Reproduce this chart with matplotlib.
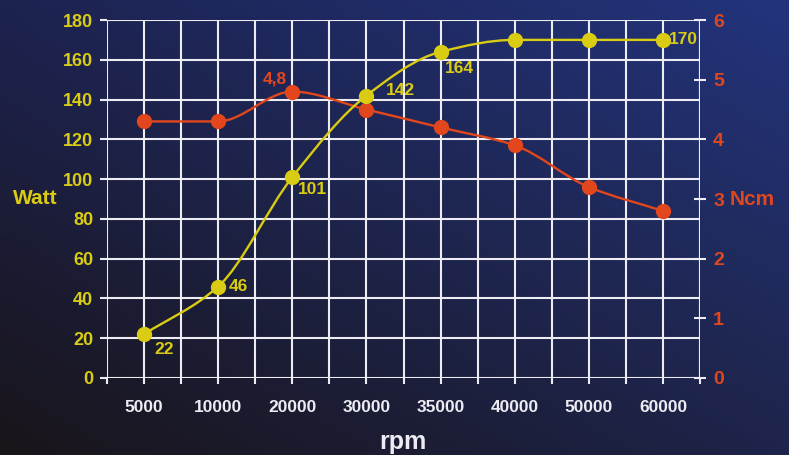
import numpy as np
import matplotlib
matplotlib.use("Agg")
import matplotlib.pyplot as plt
from matplotlib.path import Path
from matplotlib.patches import PathPatch

# ---- data ----
rpm_labels = ["5000", "10000", "20000", "30000", "35000", "40000", "50000", "60000"]
power_watt = [22, 46, 101, 142, 164, 170, 170, 170]
torque_ncm = [4.3, 4.3, 4.8, 4.5, 4.2, 3.9, 3.2, 2.8]
power_labels = ["22", "46", "101", "142", "164", "", "", "170"]
watt_ticks = [0, 20, 40, 60, 80, 100, 120, 140, 160, 180]
ncm_ticks = [0, 1, 2, 3, 4, 5, 6]

YELLOW = "#d9cc12"
RED = "#e2461c"
WHITE = "#ececf2"

plt.rcParams['font.family'] = ['Liberation Sans', 'DejaVu Sans']
plt.rcParams['font.weight'] = 'bold'

fig = plt.figure(figsize=(7.89, 4.55), dpi=100)

# background gradient
bg = fig.add_axes([0, 0, 1, 1])
tl = np.array([0x1d, 0x23, 0x50]) / 255
tr = np.array([0x23, 0x34, 0x7c]) / 255
bl = np.array([0x19, 0x15, 0x1a]) / 255
br = np.array([0x1e, 0x24, 0x4a]) / 255
ny, nx = 60, 100
yy, xx = np.mgrid[0:1:ny * 1j, 0:1:nx * 1j]
img = (tl[None, None, :] * ((1 - xx) * (1 - yy))[..., None]
       + tr[None, None, :] * (xx * (1 - yy))[..., None]
       + bl[None, None, :] * ((1 - xx) * yy)[..., None]
       + br[None, None, :] * (xx * yy)[..., None])
bg.imshow(img, aspect='auto', extent=[0, 1, 0, 1], interpolation='bilinear')
bg.set_axis_off()

ax = fig.add_axes([107 / 789, 1 - 378 / 455, (700 - 107) / 789, (378 - 20) / 455])
ax.set_facecolor('none')
n = len(rpm_labels)
x = np.arange(n)
ax.set_xlim(-0.5, n - 0.5)
ax.set_ylim(0, 180)

# grid
half_steps = np.arange(-0.5, n, 0.5)
ax.set_xticks(half_steps)
ax.set_xticklabels([""] * len(half_steps))
for xv in half_steps:
    ax.axvline(xv, color=WHITE, lw=1.5, zorder=1)
for yv in watt_ticks:
    ax.axhline(yv, color=WHITE, lw=1.5, zorder=1)
for s in ax.spines.values():
    s.set_visible(False)

ax.set_yticks(watt_ticks)
ax.set_yticklabels([str(v) for v in watt_ticks], color=YELLOW, fontsize=13, fontweight='bold')
ax.tick_params(axis='y', direction='out', length=5, width=1.5, color=WHITE, pad=5)
ax.tick_params(axis='x', direction='out', length=4, width=1.5, color=WHITE, pad=0)

for xi, lab in zip(x, rpm_labels):
    ax.annotate(lab, xy=(xi, 0), xycoords='data', xytext=(0, -29), textcoords='offset pixels',
                ha='center', va='center', color=WHITE, fontsize=12.5, fontweight='bold')


def smooth_path(xs, ys):
    """Monotone cubic (Fritsch-Carlson) drawn as Bezier segments."""
    xs = np.asarray(xs, float)
    ys = np.asarray(ys, float)
    m = len(xs)
    h = np.diff(xs)
    d = np.diff(ys) / h
    t = np.zeros(m)
    t[0] = d[0]
    t[-1] = d[-1]
    for i in range(1, m - 1):
        if d[i - 1] * d[i] <= 0:
            t[i] = 0.0
        else:
            w1 = 2 * h[i] + h[i - 1]
            w2 = h[i] + 2 * h[i - 1]
            t[i] = (w1 + w2) / (w1 / d[i - 1] + w2 / d[i])
    verts = [(xs[0], ys[0])]
    codes = [Path.MOVETO]
    for i in range(m - 1):
        c1 = (xs[i] + h[i] / 3, ys[i] + t[i] * h[i] / 3)
        c2 = (xs[i + 1] - h[i] / 3, ys[i + 1] - t[i + 1] * h[i] / 3)
        verts += [c1, c2, (xs[i + 1], ys[i + 1])]
        codes += [Path.CURVE4] * 3
    return Path(verts, codes)


ax2 = ax.twinx()
ax2.set_ylim(0, 6)
ax2.set_facecolor('none')
for s in ax2.spines.values():
    s.set_visible(False)
ax2.axvline(n - 0.5, color=WHITE, lw=1.5, zorder=1)
ax2.set_yticks(ncm_ticks)
ax2.set_yticklabels([str(v) for v in ncm_ticks], color=RED, fontsize=14, fontweight='bold')
ax2.tick_params(axis='y', direction='inout', length=9, width=1.5, color=WHITE, pad=5)

# torque line (red)
ax2.add_patch(PathPatch(smooth_path(x, torque_ncm), fill=False, edgecolor=RED, lw=1.7, zorder=3))
ax2.plot(x, torque_ncm, 'o', color=RED, ms=10, zorder=4)

# power line (yellow), drawn in the Watt axis coordinates
pp = PathPatch(smooth_path(x, power_watt), fill=False, edgecolor=YELLOW, lw=1.7, zorder=5,
               transform=ax.transData)
ax2.add_patch(pp)
ax2.plot(x, power_watt, 'o', color=YELLOW, ms=10, zorder=6, transform=ax.transData)

offsets = {0: (10, -15, 'left', 'center'), 1: (11, 0, 'left', 'center'),
           2: (6, -12, 'left', 'center'), 3: (19, 5, 'left', 'center'),
           4: (4, -17, 'left', 'center'), 7: (6, 0, 'left', 'center')}
for i, lab in enumerate(power_labels):
    if not lab:
        continue
    dx, dy, ha, va = offsets[i]
    ax2.annotate(lab, xy=(x[i], power_watt[i]), xycoords=ax.transData, xytext=(dx, dy),
                 textcoords='offset pixels', ha=ha, va=va, color=YELLOW, fontsize=12.5,
                 fontweight='bold', zorder=7)

imax = int(np.argmax(torque_ncm))
ax2.annotate("4,8", xy=(x[imax], torque_ncm[imax]), xytext=(-5, 13), textcoords='offset pixels',
             ha='right', va='center', color=RED, fontsize=12.5, fontweight='bold', zorder=7)

ax2.annotate("Ncm", xy=(1, 3), xycoords=('axes fraction', 'data'), xytext=(30, 0),
             textcoords='offset pixels', ha='left', va='center', color=RED, fontsize=15,
             fontweight='bold')

fig.text(35 / 789, 1 - 198 / 455, "Watt", ha='center', va='center', color=YELLOW,
         fontsize=15, fontweight='bold')
fig.text(403 / 789, 1 - 442 / 455, "rpm", ha='center', va='center', color=WHITE,
         fontsize=18, fontweight='bold')

fig.savefig("out.png", dpi=100)
